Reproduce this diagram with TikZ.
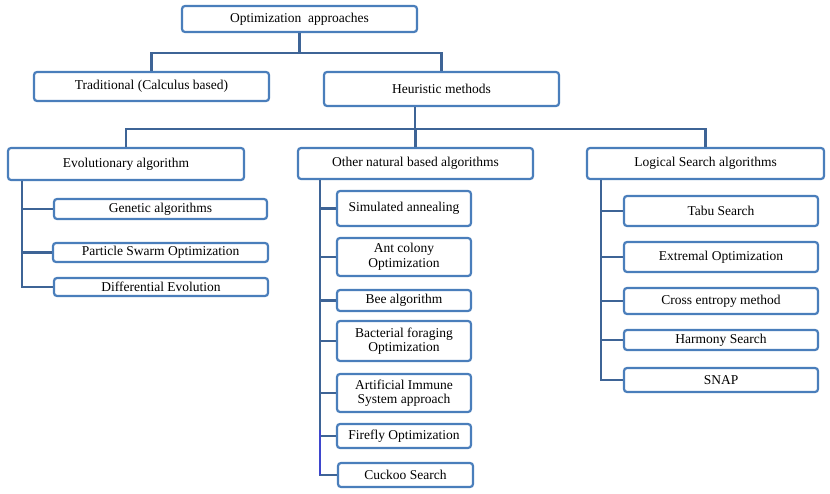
\documentclass[tikz,border=0pt]{standalone}
\usepackage{fontspec}
\setmainfont{Liberation Serif}
\usepackage{tikz}
\usetikzlibrary{positioning}
\definecolor{boxblue}{RGB}{74,126,187}
\definecolor{linkblue}{RGB}{62,100,150}
\definecolor{oddblue}{RGB}{62,70,205}
\tikzset{%
    box/.style={%
        draw=boxblue, line width=2.2pt, rounded corners=3pt, fill=white,
        inner sep=0pt, align=center, font=\fontsize{13.5}{14.5}\selectfont
    },
    link/.style={%
        draw=linkblue, line width=2.6pt
    }
}

\begin{document}
\begin{tikzpicture}[x=1pt,y=-1pt]
    \useasboundingbox (0,0) rectangle (830,494);
    % levels 0 and 1
    \node[box, minimum width=235pt, minimum height=26pt] (top) at (299.5,19) {Optimization\ \ approaches};
    \node[box, minimum width=235pt, minimum height=29pt] (trad) at (151.5,86.5) {Traditional (Calculus based)};
    \node[box, minimum width=235pt, minimum height=34pt] (heur) at (441.5,89) {Heuristic methods};
    % level 2
    \node[box, minimum width=236pt, minimum height=32pt] (evo) at (126,164) {Evolutionary algorithm};
    \node[box, minimum width=235pt, minimum height=31pt] (other) at (415.5,163.5) {Other natural based algorithms};
    \node[box, minimum width=237pt, minimum height=31pt] (logic) at (705.5,163.5) {Logical Search algorithms};
    % evolutionary
    \node[box, minimum width=213pt, minimum height=20pt] (gen) at (160.5,209) {Genetic algorithms};
    \node[box, minimum width=215pt, minimum height=19pt] (pso) at (160.5,252.5) {Particle Swarm Optimization};
    \node[box, minimum width=214pt, minimum height=18pt] (de) at (161,287) {Differential Evolution};
    % other natural based
    \node[box, minimum width=134pt, minimum height=35pt] (sa) at (404,208.5) {Simulated annealing};
    \node[box, minimum width=134pt, minimum height=38pt] (aco) at (404,257) {Ant colony\\Optimization};
    \node[box, minimum width=134pt, minimum height=21pt] (bee) at (404,300.5) {Bee algorithm};
    \node[box, minimum width=134pt, minimum height=40pt] (bfo) at (404,341) {Bacterial foraging\\Optimization};
    \node[box, minimum width=134pt, minimum height=38pt] (ais) at (404,393) {Artificial Immune\\System approach};
    \node[box, minimum width=134pt, minimum height=24pt] (ffo) at (404,436) {Firefly Optimization};
    \node[box, minimum width=135pt, minimum height=24pt] (cs) at (405.5,475) {Cuckoo Search};
    % logical search
    \node[box, minimum width=194pt, minimum height=30pt] (tabu) at (721,211) {Tabu Search};
    \node[box, minimum width=194pt, minimum height=30pt] (eo) at (721,257) {Extremal Optimization};
    \node[box, minimum width=194pt, minimum height=26pt] (ce) at (721,301) {Cross entropy method};
    \node[box, minimum width=194pt, minimum height=20pt] (hs) at (721,340) {Harmony Search};
    \node[box, minimum width=194pt, minimum height=24pt] (snap) at (721,380) {SNAP};
    % buses and trunks
    \coordinate (bus1) at (299.5,53);
    \coordinate (bus2) at (415,129);
    \coordinate (evotrunk) at (22,181);
    \coordinate (othertrunk) at (320,180);
    \coordinate (logictrunk) at (601,180);
    \coordinate (oddstart) at (320,430);
    \begin{scope}[on background layer/.try]
    \draw[link]
        (top.south) -- (bus1)
        (bus1) -| (trad.north)
        (bus1) -| (heur.north)
        (heur.south -| bus2) -- (bus2)
        (bus2) -| (evo.north)
        (bus2) -| (other.north)
        (bus2) -| (logic.north)
        ;
    \draw[link]
        (evotrunk) |- (gen.west)
        (evotrunk) |- (pso.west)
        (evotrunk) |- (de.west)
        (othertrunk) |- (sa.west)
        (othertrunk) |- (aco.west)
        (othertrunk) |- (bee.west)
        (othertrunk) |- (bfo.west)
        (othertrunk) |- (ais.west)
        (othertrunk) |- (ffo.west)
        (othertrunk) |- (cs.west)
        (logictrunk) |- (tabu.west)
        (logictrunk) |- (eo.west)
        (logictrunk) |- (ce.west)
        (logictrunk) |- (hs.west)
        (logictrunk) |- (snap.west)
        ;
    \draw[link, draw=oddblue] (oddstart) -- (oddstart |- cs.west);
    \end{scope}
\end{tikzpicture}
\end{document}
